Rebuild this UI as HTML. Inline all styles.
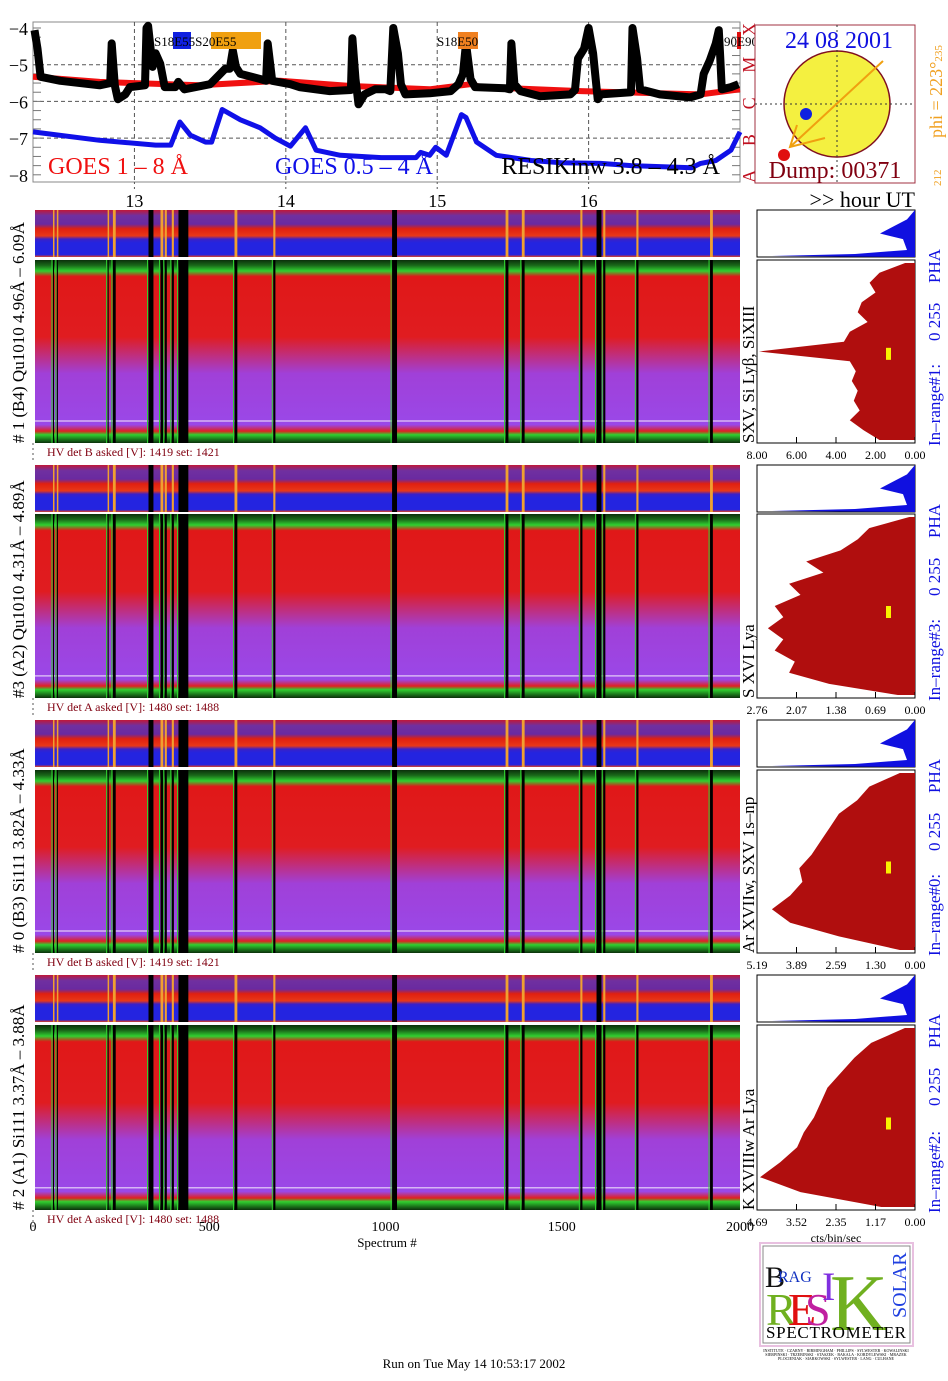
<!DOCTYPE html>
<html><head><meta charset="utf-8"><style>
html,body{margin:0;padding:0;background:#fff}
svg{display:block;font-family:"Liberation Serif",serif}
</style></head><body>
<svg id="s" width="948" height="1381" viewBox="0 0 948 1381" xmlns="http://www.w3.org/2000/svg">
<defs>
<linearGradient id="gMain" x1="0" y1="0" x2="0" y2="1">
<stop offset="0" stop-color="#0b300b"/><stop offset="0.03" stop-color="#1a6a1a"/><stop offset="0.06" stop-color="#30d030"/>
<stop offset="0.09" stop-color="#e01818"/><stop offset="0.42" stop-color="#e01c20"/><stop offset="0.62" stop-color="#a040d8"/>
<stop offset="0.9" stop-color="#9a48e8"/><stop offset="0.935" stop-color="#e02020"/><stop offset="0.955" stop-color="#30d030"/><stop offset="1" stop-color="#0b300b"/>
</linearGradient>
<linearGradient id="gStrip" x1="0" y1="0" x2="0" y2="1">
<stop offset="0" stop-color="#c01838"/><stop offset="0.12" stop-color="#7030a0"/><stop offset="0.3" stop-color="#6a2aa0"/>
<stop offset="0.4" stop-color="#e02010"/><stop offset="0.55" stop-color="#e83818"/><stop offset="0.62" stop-color="#3a20c8"/>
<stop offset="0.7" stop-color="#2424e0"/><stop offset="0.95" stop-color="#2424e0"/><stop offset="1" stop-color="#e04020"/>
</linearGradient>
</defs>
<g id="goes"></g>
<g id="specs"></g>
<g id="hists"></g>
<g id="static">
<g>
<rect x="755" y="25" width="160" height="158" fill="#fff" stroke="#a03040" stroke-width="1"/>
<circle cx="837" cy="104" r="53" fill="#f4f040" stroke="#801020" stroke-width="1.5"/>
<line x1="755" y1="104" x2="915" y2="104" stroke="#333" stroke-dasharray="2,3"/>
<line x1="837" y1="25" x2="837" y2="183" stroke="#333" stroke-dasharray="2,3"/>
<line x1="883" y1="61" x2="790" y2="147" stroke="#f0a010" stroke-width="2"/>
<polyline points="797,125 790,147 825,138" fill="none" stroke="#f0a010" stroke-width="2"/>
<circle cx="806" cy="114" r="6" fill="#1020e0"/>
<circle cx="784" cy="155" r="6" fill="#e01010"/>
<text x="839" y="48" font-size="24" fill="#1010e0" text-anchor="middle">24 08 2001</text>
<text x="835" y="178" font-size="24" fill="#800010" text-anchor="middle">Dump: 00371</text>
<text transform="translate(942,138) rotate(-90)" font-size="18" fill="#f0a020">phi = 223°<tspan font-size="11">235</tspan></text>
<text transform="translate(941,186) rotate(-90)" font-size="11" fill="#f0a020">212</text>
</g>
<text x="915" y="207" font-size="22" text-anchor="end" fill="#000">&gt;&gt; hour UT</text>
<text x="740" y="1231" font-size="14" text-anchor="middle">2000</text>
<text x="387" y="1247" font-size="13" text-anchor="middle">Spectrum #</text>
<text x="836" y="1242" font-size="12" text-anchor="middle">cts/bin/sec</text>
<text x="474" y="1368" font-size="13" text-anchor="middle">Run on Tue May 14 10:53:17 2002</text>
<g>
<rect x="760" y="1243" width="153" height="103" fill="#fff" stroke="#e8c0e0" stroke-width="2"/>
<rect x="763" y="1246" width="147" height="97" fill="none" stroke="#888" stroke-width="1"/>
<text x="765" y="1287" font-size="30" fill="#111">B</text>
<text x="778" y="1282" font-size="16" fill="#1030c0">RAG</text>
<text x="766" y="1325" font-size="46" fill="#70b020">R</text>
<text x="788" y="1325" font-size="46" fill="#e01010">E</text>
<text x="805" y="1325" font-size="46" fill="#c020a0">S</text>
<text x="830" y="1330" font-size="80" fill="#70b020">K</text>
<text x="822" y="1300" font-size="40" fill="#8030e0">I</text>
<text transform="translate(906,1318) rotate(-90)" font-size="20" fill="#2040e0">SOLAR</text>
<text x="836" y="1338" font-size="17" text-anchor="middle" fill="#000" textLength="140">SPECTROMETER</text>
<text x="836" y="1352" font-size="4" text-anchor="middle">INSTITUTE · CZARNY · BIRMINGHAM · PHILLIPS · SYLWESTER · KOWALINSKI</text>
<text x="836" y="1356" font-size="4" text-anchor="middle">SIERPINSKI · TRZEBINSKI · STASZEK · BAKALA · KORDYLEWSKI · MRAZEK</text>
<text x="836" y="1360" font-size="4" text-anchor="middle">PLOCIENIAK · SIARKOWSKI · SYLWESTER · LANG · CULHANE</text>
</g>
</g>
</svg>
<script>
// ---------- GOES data ----------
const goesT = [12.34,12.36,12.38,12.51,12.77,12.84,12.85,12.87,12.89,12.94,12.97,13.07,13.08,13.09,13.12,13.14,13.17,13.20,13.27,13.29,13.33,13.50,13.60,13.63,13.65,13.67,13.70,13.83,13.87,13.88,13.91,14.03,14.09,14.29,14.43,14.44,14.46,14.48,14.52,14.59,14.66,14.69,14.71,14.74,14.76,14.79,14.95,15.09,15.14,15.17,15.19,15.22,15.25,15.45,15.48,15.49,15.51,15.55,15.68,15.88,15.91,15.93,15.97,16.00,16.03,16.06,16.08,16.28,16.29,16.32,16.34,16.47,16.67,16.74,16.76,16.80,16.84,16.86,16.87,16.88,16.94,16.99];
const resikV = [-4.06,-4.56,-5.33,-5.44,-5.56,-5.5,-4.42,-5.56,-5.94,-5.81,-5.61,-5.56,-4.0,-3.94,-5.06,-4.69,-4.97,-5.61,-5.61,-5.47,-5.67,-5.53,-5.11,-5.11,-4.61,-5.06,-5.25,-5.39,-5.44,-4.42,-5.44,-5.53,-5.61,-5.72,-5.69,-4.28,-5.39,-6.08,-5.81,-5.67,-5.67,-5.72,-4.0,-4.69,-5.53,-5.81,-5.78,-5.72,-5.53,-5.25,-4.42,-5.39,-5.61,-5.64,-5.67,-4.42,-5.53,-5.72,-5.86,-5.81,-5.69,-4.83,-4.56,-4.0,-4.69,-5.94,-5.81,-5.75,-4.0,-4.83,-5.67,-5.81,-5.89,-5.81,-5.25,-4.89,-4.42,-4.06,-4.83,-5.67,-5.61,-5.53];
const goesLongT = [12.33,12.77,13.43,13.96,14.43,14.95,15.22,15.29,15.95,16.74,17.0];
const goesLongV = [-5.33,-5.47,-5.56,-5.44,-5.58,-5.67,-5.53,-5.61,-5.72,-5.81,-5.67];
const goesShortT = [12.33,12.77,13.14,13.24,13.30,13.37,13.47,13.51,13.58,13.70,13.83,13.93,14.03,14.13,14.20,14.36,14.63,14.86,14.89,14.95,14.99,15.06,15.16,15.19,15.26,15.39,15.62,15.82,16.08,16.28,16.68,16.74,16.84,16.94,17.0];
const goesShortV = [-6.83,-7.06,-7.19,-7.19,-6.56,-6.92,-7.11,-7.11,-6.22,-6.5,-6.72,-7.0,-7.22,-6.72,-7.33,-7.47,-7.53,-7.53,-7.39,-7.47,-7.25,-7.47,-6.36,-6.44,-7.11,-7.47,-7.61,-7.67,-7.69,-7.75,-7.81,-7.69,-7.61,-7.33,-6.83];
const yTicks = [-4,-5,-6,-7,-8];
const hourTicks = [13,14,15,16];
const classLabels = ['A','B','C','M','X'];
// ---------- spectrogram data ----------
const gapStart = [51,62,206,221,322,356,368,388,407,566,676,1013,1335,1381,1547,1593,1612,1706,1915];
const gapWidth = [3,3,3,8,14,8,6,6,28,8,6,14,8,8,6,14,6,6,8];
const specTicks = [0,500,1000,1500];
const panelNames = ['# 1 (B4) Qu1010 4.96Å – 6.09Å','#3 (A2) Qu1010  4.31Å – 4.89Å','# 0 (B3) Si111  3.82Å – 4.33Å','# 2 (A1) Si111  3.37Å – 3.88Å'];
const hvLabels = ['HV det B asked [V]:  1419 set:  1421','HV det A asked [V]:  1480 set:  1488','HV det B asked [V]:  1419 set:  1421','HV det A asked [V]:  1480 set:  1488'];
const lineNames = ['SXV, Si Lyβ, SiXIII','S XVI Lya','Ar XVIIw,  SXV 1s–np','K XVIIIw  Ar Lya'];
const rangeNames = ['In–range#1:','In–range#3:','In–range#0:','In–range#2:'];
// ---------- histogram data ----------
const histMax = [8.00,2.76,5.19,4.69];
const histTickLabels = [['8.00','6.00','4.00','2.00','0.00'],['2.76','2.07','1.38','0.69','0.00'],['5.19','3.89','2.59','1.30','0.00'],['4.69','3.52','2.35','1.17','0.00']];
const hist1 = [0.5,1.8,2.3,2.0,2.7,2.9,2.4,3.3,3.6,7.9,3.3,3.0,3.2,2.9,3.1,2.8,3.3,2.6,1.8];
const hist2 = [0.1,0.8,1.0,1.3,1.9,1.6,2.2,2.0,2.45,2.3,2.57,2.3,2.45,2.1,2.2,1.5,0.3];
const hist3 = [0.5,1.5,1.9,2.5,2.8,3.1,3.4,3.8,3.7,4.1,4.7,4.1,2.5,0.5];
const hist4 = [0.3,1.3,1.8,2.2,2.6,2.8,3.0,3.3,3.5,4.0,4.6,3.4,1.0];
const histData = [hist1,hist2,hist3,hist4];

const NS='http://www.w3.org/2000/svg';
function mk(parent,tag,attrs,text){const e=document.createElementNS(NS,tag);for(const k in attrs)e.setAttribute(k,attrs[k]);if(text!==undefined)e.textContent=text;parent.appendChild(e);return e;}

// GOES axes
const GX0=33,GX1=740,GY0=22,GY1=182;
const tx=h=>GX0+(h-12.33)/(17.0-12.33)*(GX1-GX0);
const ty=v=>28+(-4-v)*36.7;
const goes=document.getElementById('goes');
mk(goes,'rect',{x:GX0,y:GY0,width:GX1-GX0,height:GY1-GY0,fill:'#fff',stroke:'#888','stroke-width':1});
yTicks.forEach(v=>{
  if(v>-8&&v<-4){const g=mk(goes,'line',{x1:GX0,x2:GX1,y1:ty(v),y2:ty(v),stroke:'#555','stroke-dasharray':'4,3'});}
  const t=mk(goes,'text',{x:28,y:ty(v)+7,'font-size':18,'text-anchor':'end'},'−'+Math.abs(v));
  
  
});
for(let v=-4;v>=-8;v-=0.25){mk(goes,'line',{x1:GX0,x2:GX0+8,y1:ty(v),y2:ty(v),stroke:'#777'});mk(goes,'line',{x1:GX1-8,x2:GX1,y1:ty(v),y2:ty(v),stroke:'#777'});}
hourTicks.forEach(h=>{
  mk(goes,'line',{x1:tx(h),x2:tx(h),y1:GY0,y2:GY1,stroke:'#555','stroke-dasharray':'4,3'});
  mk(goes,'line',{x1:tx(h),x2:tx(h),y1:GY1,y2:190,stroke:'#555','stroke-dasharray':'2,3'});
  const t=mk(goes,'text',{x:tx(h),y:207,'font-size':18,'text-anchor':'middle'},String(h));
  
  
});
classLabels.forEach((c,i)=>{
  const t=mk(goes,'text',{transform:`translate(755,${ty(-8+i)+8}) rotate(-90)`,'font-size':18,fill:'#c01020'},c);
  
  
});
function poly(T,V,color,w,name){
  const p=mk(goes,'polyline',{points:T.map((t,i)=>tx(t).toFixed(1)+','+ty(V[i]).toFixed(1)).join(' '),fill:'none',stroke:color,'stroke-width':w,'stroke-linejoin':'round'});
  
  
}
poly(goesLongT,goesLongV,'#f01010',6,'goes-long-line');
poly(goesShortT,goesShortV,'#1010e8',5,'goes-short-line');
poly(goesT,resikV,'#000',8,'resik-line');
mk(goes,'rect',{x:173,y:32,width:18,height:17,fill:'#1020e0'});
mk(goes,'rect',{x:211,y:32,width:50,height:17,fill:'#f0a010'});
mk(goes,'rect',{x:458,y:32,width:20,height:17,fill:'#f08020'});
mk(goes,'rect',{x:737,y:32,width:4,height:17,fill:'#e01010'});
mk(goes,'text',{x:154,y:46,'font-size':13},'S18E55S20E55');
mk(goes,'text',{x:437,y:46,'font-size':13},'S18E50');
mk(goes,'text',{x:758,y:46,'font-size':13,'text-anchor':'end'},'90E90');
mk(goes,'text',{x:48,y:174,'font-size':24,fill:'#f01010'},'GOES 1 – 8 Å');
mk(goes,'text',{x:275,y:174,'font-size':24,fill:'#1010e8'},'GOES 0.5 – 4 Å');
mk(goes,'text',{x:720,y:174,'font-size':24,'text-anchor':'end',fill:'#000'},'RESIKinw 3.8 – 4.3 Å');

// Spectrograms
const SX0=35,SX1=740;
const sx=s=>SX0+s/2000*(SX1-SX0);
const panels=[[210,257,260,443],[465,512,514,698],[720,767,770,953],[975,1022,1025,1210]];
const specs=document.getElementById('specs');
panels.forEach((p,i)=>{
  const g=mk(specs,'g',{});
  
  
  mk(g,'rect',{x:SX0,y:p[0],width:SX1-SX0,height:p[1]-p[0],fill:'url(#gStrip)'});
  mk(g,'rect',{x:SX0,y:p[2],width:SX1-SX0,height:p[3]-p[2],fill:'url(#gMain)'});
  mk(g,'line',{x1:SX0,x2:SX1,y1:p[2]+(p[3]-p[2])*0.88,y2:p[2]+(p[3]-p[2])*0.88,stroke:'#fff','stroke-width':1.5,opacity:0.6});
  gapStart.forEach((s,k)=>{
    const w=gapWidth[k]/2000*(SX1-SX0);
    const b=mk(g,'rect',{x:sx(s),y:p[2],width:Math.max(w,1),height:p[3]-p[2],fill:'#000'});
    
    
    mk(g,'rect',{x:sx(s),y:p[0],width:Math.max(w,1.5),height:p[1]-p[0],fill:gapWidth[k]>=14?'#000':'#f0a030'});
    mk(g,'line',{x1:sx(s)-1,x2:sx(s)-1,y1:p[2],y2:p[3],stroke:'#30d030','stroke-width':1});
  });
  const lab=mk(g,'text',{transform:`translate(24,${p[3]}) rotate(-90)`,'font-size':17},panelNames[i]);
  
  
  const hv=mk(g,'text',{x:47,y:p[3]+13,'font-size':12,fill:'#800010'},hvLabels[i]);
  
  
  mk(g,'line',{x1:33,x2:33,y1:p[3],y2:p[3]+20,stroke:'#555','stroke-dasharray':'2,3'});
});
specTicks.forEach(s=>{
  const t=mk(specs,'text',{x:sx(s)-2,y:1231,'font-size':14,'text-anchor':'middle'},String(s));
  
  
});

// Histograms
const HX0=757,HX1=915;
const hists=document.getElementById('hists');
panels.forEach((p,i)=>{
  const g=mk(hists,'g',{});
  
  
  mk(g,'rect',{x:HX0,y:p[0],width:HX1-HX0,height:p[1]-p[0],fill:'#fff',stroke:'#000'});
  const h=p[1]-p[0];
  mk(g,'path',{d:`M${HX1},${p[0]} L${HX1-8},${p[0]+h*0.2} L${HX1-35},${p[0]+h*0.5} L${HX1-12},${p[0]+h*0.62} L${HX1-8},${p[0]+h*0.85} L${HX1-60},${p[1]-3} L${HX0+15},${p[1]-1} L${HX1},${p[1]} Z`,fill:'#1010e0'});
  const y0=p[2],y1=p[3];
  mk(g,'rect',{x:HX0,y:y0,width:HX1-HX0,height:y1-y0,fill:'#fff',stroke:'#000'});
  const d=histData[i],max=histMax[i];
  const hx=v=>HX1-v/max*(HX1-HX0);
  const hy=k=>y0+3+k/(d.length-1)*(y1-y0-6);
  let path=`M${HX1},${y0+3}`;
  d.forEach((v,k)=>{path+=` L${hx(v).toFixed(1)},${hy(k).toFixed(1)}`;});
  path+=` L${HX1},${y1-3} Z`;
  const hp=mk(g,'path',{d:path,fill:'#b00e0e'});
  
  
  mk(g,'rect',{x:886,y:y0+(y1-y0)*(i==0?0.48:0.5),width:5,height:12,fill:'#f8f000'});
  histTickLabels[i].forEach((t,k)=>{
    const x=HX0+k*(HX1-HX0)/4;
    mk(g,'line',{x1:x,x2:x,y1:y1-6,y2:y1,stroke:'#000'});
    const tl=mk(g,'text',{x:x,y:y1+16,'font-size':12,'text-anchor':'middle'},t);
    
    
  });
  const ln=mk(g,'text',{transform:`translate(754,${y1}) rotate(-90)`,'font-size':17},lineNames[i]);
  
  
  const rg=mk(g,'text',{transform:`translate(940,${y1+3}) rotate(-90)`,'font-size':17,fill:'#1010e0'});
  
  
  mk(rg,'tspan',{x:0},rangeNames[i]);
  mk(rg,'tspan',{x:y1-p[0]-128},'0 255');
  mk(rg,'tspan',{x:y1-p[0]-70},'PHA');
});
</script>
</body></html>
